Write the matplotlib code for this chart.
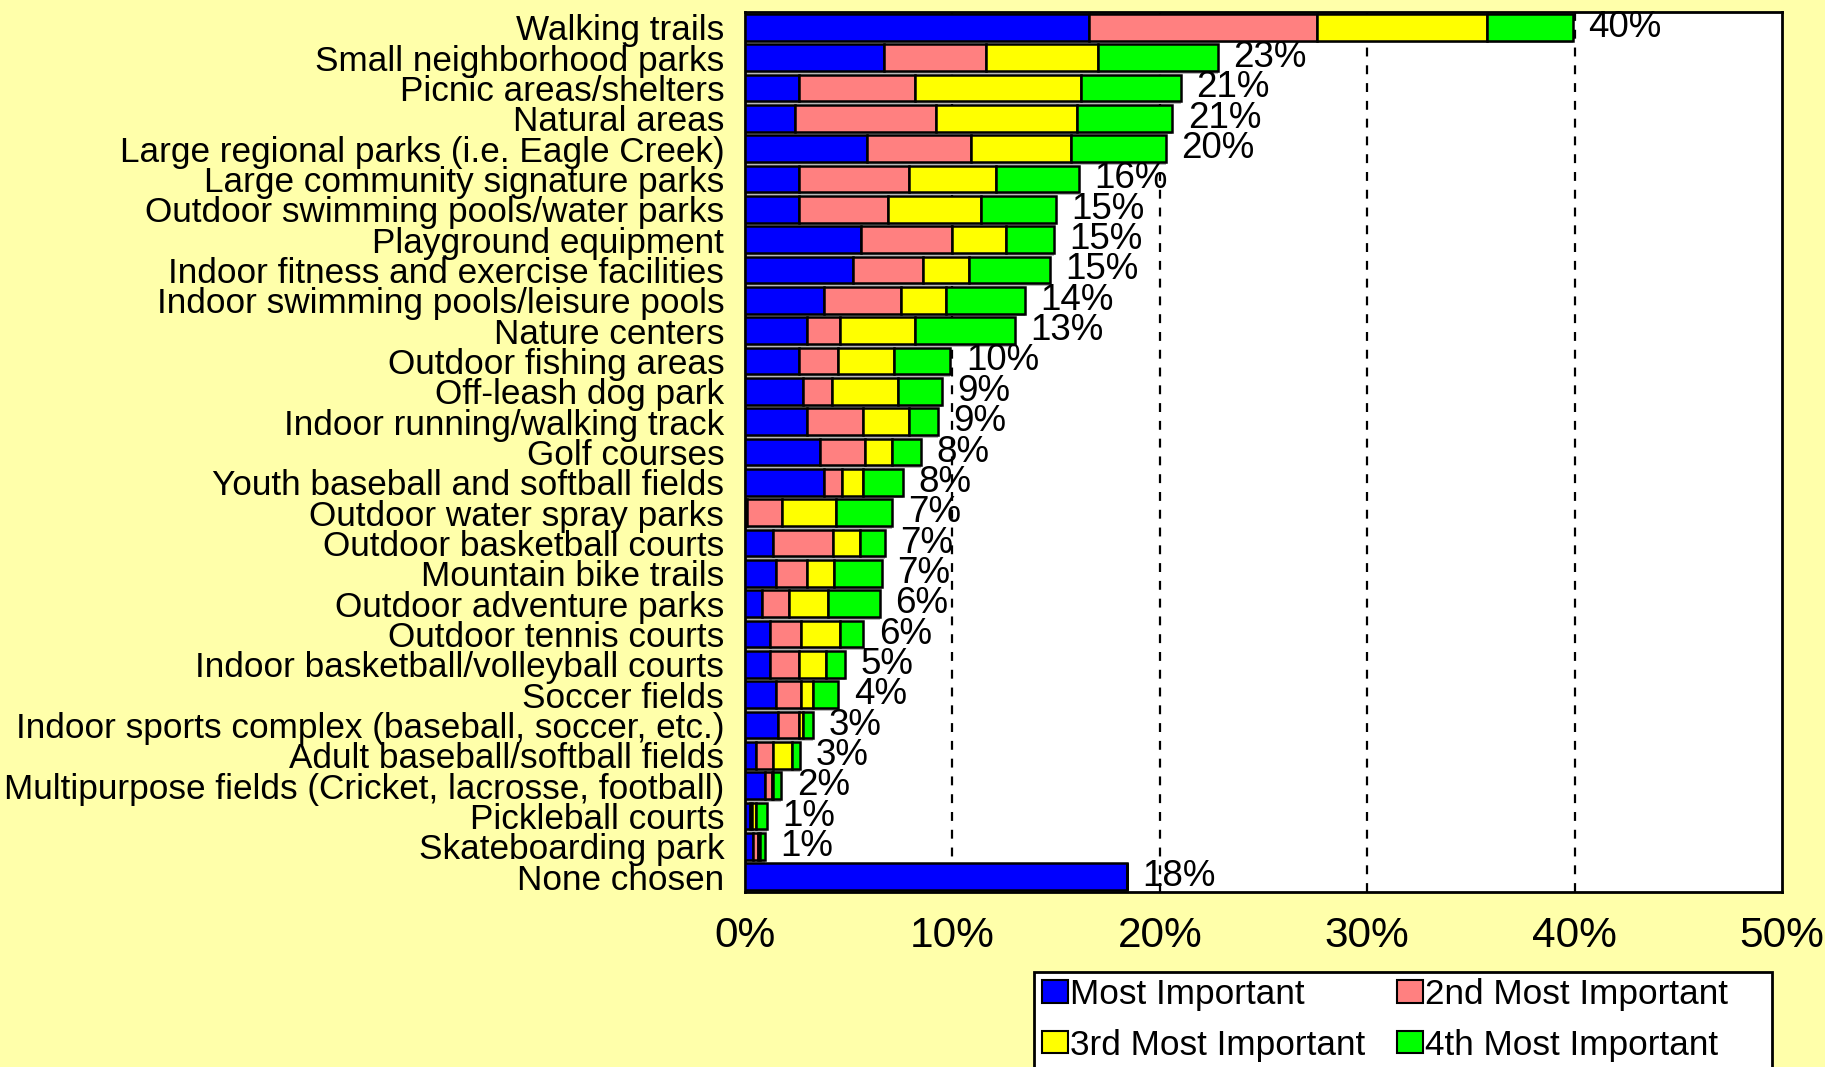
import numpy as np
import matplotlib
matplotlib.use("Agg")
import matplotlib.pyplot as plt
from matplotlib.patches import Patch, Rectangle

plt.rcParams['font.family'] = ['Liberation Sans', 'DejaVu Sans']

# facilities, top to bottom
categories = [
    "Walking trails",
    "Small neighborhood parks",
    "Picnic areas/shelters",
    "Natural areas",
    "Large regional parks (i.e. Eagle Creek)",
    "Large community signature parks",
    "Outdoor swimming pools/water parks",
    "Playground equipment",
    "Indoor fitness and exercise facilities",
    "Indoor swimming pools/leisure pools",
    "Nature centers",
    "Outdoor fishing areas",
    "Off-leash dog park",
    "Indoor running/walking track",
    "Golf courses",
    "Youth baseball and softball fields",
    "Outdoor water spray parks",
    "Outdoor basketball courts",
    "Mountain bike trails",
    "Outdoor adventure parks",
    "Outdoor tennis courts",
    "Indoor basketball/volleyball courts",
    "Soccer fields",
    "Indoor sports complex (baseball, soccer, etc.)",
    "Adult baseball/softball fields",
    "Multipurpose fields (Cricket, lacrosse, football)",
    "Pickleball courts",
    "Skateboarding park",
    "None chosen",
]

most = [16.6, 6.7, 2.6, 2.4, 5.9, 2.6, 2.6, 5.6, 5.2, 3.8, 3.0, 2.6, 2.8, 3.0, 3.6,
        3.8, 0.1, 1.35, 1.5, 0.8, 1.2, 1.2, 1.5, 1.6, 0.55, 0.95, 0.25, 0.4, 18.4]
second = [11.0, 4.9, 5.6, 6.8, 5.0, 5.3, 4.3, 4.4, 3.4, 3.7, 1.6, 1.9, 1.4, 2.7, 2.2,
          0.9, 1.7, 2.9, 1.5, 1.3, 1.5, 1.4, 1.2, 1.0, 0.8, 0.35, 0.1, 0.25, 0]
third = [8.2, 5.4, 8.0, 6.8, 4.8, 4.2, 4.5, 2.6, 2.2, 2.2, 3.6, 2.7, 3.2, 2.2, 1.3,
         1.0, 2.6, 1.3, 1.3, 1.9, 1.9, 1.3, 0.6, 0.2, 0.9, 0.05, 0.2, 0.05, 0]
fourth = [4.1, 5.8, 4.8, 4.6, 4.6, 4.0, 3.6, 2.3, 3.9, 3.8, 4.8, 2.7, 2.1, 1.4, 1.4,
          1.9, 2.7, 1.2, 2.3, 2.5, 1.1, 0.9, 1.2, 0.5, 0.4, 0.4, 0.5, 0.25, 0]
total_labels = ["40%", "23%", "21%", "21%", "20%", "16%", "15%", "15%", "15%", "14%",
                "13%", "10%", "9%", "9%", "8%", "8%", "7%", "7%", "7%", "6%", "6%",
                "5%", "4%", "3%", "3%", "2%", "1%", "1%", "18%"]

series_names = ["Most Important", "2nd Most Important", "3rd Most Important", "4th Most Important"]
colors = ["#0000FF", "#FF8080", "#FFFF00", "#00FF00"]
bg = "#FFFFAA"

fig = plt.figure(figsize=(18.25, 10.67), dpi=100, facecolor=bg)
ax = fig.add_axes([745 / 1825, 175 / 1067, 1037 / 1825, 880 / 1067])
ax.set_facecolor("white")

y = np.arange(len(categories))
h = 0.88
series = [np.array(most), np.array(second), np.array(third), np.array(fourth)]
totals = sum(series)

# grey shadow strip under each bar
ax.barh(y + h / 2 + 0.06, totals, height=0.06, color="#B8B8B8", zorder=1)

left = np.zeros(len(categories))
for vals, c in zip(series, colors):
    ax.barh(y, vals, left=left, height=h, color=c, edgecolor="black",
            linewidth=1.8, zorder=3)
    left += vals

for yi, t, lab in zip(y, totals, total_labels):
    ax.text(t + 0.75, yi, lab, va="center", ha="left", fontsize=26.5, zorder=4)

for gx in [10, 20, 30, 40]:
    ax.axvline(gx, color="black", linestyle=(0, (4, 4)), linewidth=1.6, zorder=0)

ax.set_xlim(0, 50)
ax.set_ylim(len(categories) - 0.5, -0.5)
ax.set_xticks([0, 10, 20, 30, 40, 50])
ax.set_xticklabels(["0%", "10%", "20%", "30%", "40%", "50%"], fontsize=30.5)
ax.set_yticks(y)
ax.set_yticklabels(categories, fontsize=25.3)
ax.tick_params(axis="both", length=0)
ax.tick_params(axis="x", pad=17)
ax.tick_params(axis="y", pad=15)
for s in ax.spines.values():
    s.set_linewidth(2)
    s.set_color("black")

# legend box (wider than its contents, runs off the bottom edge)
fig.patches.append(Rectangle((1034 / 1825, -0.02), (1772 - 1034) / 1825, 0.02 + 95 / 1067,
                             transform=fig.transFigure, facecolor="white",
                             edgecolor="black", linewidth=2, zorder=1))

handles = [Patch(facecolor=c, edgecolor="black", linewidth=1.5) for c in colors]
order = [0, 2, 1, 3]
leg = fig.legend([handles[i] for i in order], [series_names[i] for i in order],
                 ncol=2, loc="upper left", bbox_to_anchor=(1042 / 1825, 1 - 978 / 1067),
                 fontsize=25.3, frameon=False, borderpad=0,
                 handlelength=0.75, handleheight=0.6, handletextpad=0.05,
                 columnspacing=0.9, labelspacing=0.5, borderaxespad=0)
leg.set_zorder(2)

fig.savefig("out.png", dpi=100, facecolor=bg)
